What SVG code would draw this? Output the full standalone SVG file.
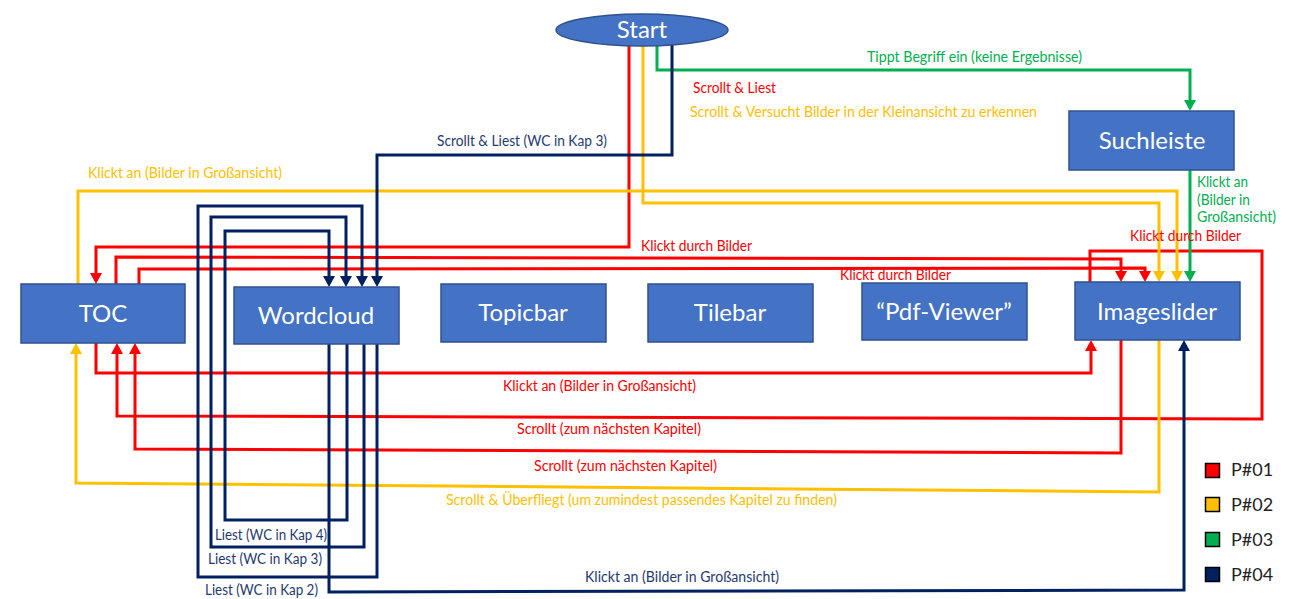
<svg xmlns="http://www.w3.org/2000/svg" width="1301" height="599" viewBox="0 0 1301 599">
  <style>
    .box { fill: #4472C4; stroke: #2F528F; stroke-width: 1.5; }
    .boxlabel { font-family: Lato, "Liberation Sans", sans-serif; font-size: 24px; fill: #FFFFFF; text-anchor: middle; }
    .lbl { font-family: Lato, "Liberation Sans", sans-serif; font-size: 14.5px; }
    .c { fill: none; stroke-width: 3; stroke-linejoin: miter; }
    .red { stroke: #FF0000; }
    .yel { stroke: #FFC000; }
    .grn { stroke: #00B050; }
    .nav { stroke: #002060; }
    .tred { fill: #FF0000; }
    .tyel { fill: #FFC000; }
    .tgrn { fill: #00B050; }
    .tnav { fill: #1F3A70; }
    .key { stroke: #000000; stroke-width: 1.5; }
    .keytext { font-family: Lato, "Liberation Sans", sans-serif; font-size: 18px; fill: #222222; }
  </style>
  <defs>
    <marker id="ahRed" markerUnits="userSpaceOnUse" markerWidth="12" markerHeight="12" refX="5" refY="6" orient="auto">
      <path d="M0,0 L11,6 L0,12 z" fill="#FF0000"/>
    </marker>
    <marker id="ahYel" markerUnits="userSpaceOnUse" markerWidth="12" markerHeight="12" refX="5" refY="6" orient="auto">
      <path d="M0,0 L11,6 L0,12 z" fill="#FFC000"/>
    </marker>
    <marker id="ahGrn" markerUnits="userSpaceOnUse" markerWidth="12" markerHeight="12" refX="5" refY="6" orient="auto">
      <path d="M0,0 L11,6 L0,12 z" fill="#00B050"/>
    </marker>
    <marker id="ahNav" markerUnits="userSpaceOnUse" markerWidth="12" markerHeight="12" refX="5" refY="6" orient="auto">
      <path d="M0,0 L11,6 L0,12 z" fill="#002060"/>
    </marker>
  </defs>

  <rect x="0" y="0" width="1301" height="599" fill="#FFFFFF"/>

  <g id="connectors">
    <!-- P#01 (red) -->
    <path class="c red" d="M629,44 V247 H96 V278" marker-end="url(#ahRed)"/>
    <path class="c red" d="M116,284 V257 L1121,259 V276" marker-end="url(#ahRed)"/>
    <path class="c red" d="M139,284 V269 L1145,268 V276" marker-end="url(#ahRed)"/>
    <path class="c red" d="M1090,282 V251 H1262 V419 L117,416 V349" marker-end="url(#ahRed)"/>
    <path class="c red" d="M96,343 V373 H1091 V346" marker-end="url(#ahRed)"/>
    <path class="c red" d="M1121,340 V453 L135,449 V349" marker-end="url(#ahRed)"/>
    <!-- P#02 (yellow) -->
    <path class="c yel" d="M643,45 V203 H1159 V276" marker-end="url(#ahYel)"/>
    <path class="c yel" d="M78,284 V191 H1177 V276" marker-end="url(#ahYel)"/>
    <path class="c yel" d="M1159,340 V492 L76,483 V349" marker-end="url(#ahYel)"/>
    <!-- P#03 (green) -->
    <path class="c grn" d="M657,44 V70 H1190 V105" marker-end="url(#ahGrn)"/>
    <path class="c grn" d="M1190,170 V276" marker-end="url(#ahGrn)"/>
    <!-- P#04 (navy) -->
    <path class="c nav" d="M672,44 V155 H377 V281" marker-end="url(#ahNav)"/>
    <path class="c nav" d="M329,344 V592 L1184,590 V346" marker-end="url(#ahNav)"/>
    <path class="c nav" d="M347,344 V520 H225 V231 H329 V281" marker-end="url(#ahNav)"/>
    <path class="c nav" d="M364,344 V547 H211 V217 H346 V281" marker-end="url(#ahNav)"/>
    <path class="c nav" d="M377,344 V577 H198 V206 H362 V281" marker-end="url(#ahNav)"/>

    <!-- edge labels -->
    <text class="lbl tgrn" x="867" y="62" textLength="215" lengthAdjust="spacingAndGlyphs">Tippt Begriff ein (keine Ergebnisse)</text>
    <text class="lbl tred" x="693" y="93" textLength="83" lengthAdjust="spacingAndGlyphs">Scrollt &amp; Liest</text>
    <text class="lbl tyel" x="690" y="117" textLength="347" lengthAdjust="spacingAndGlyphs">Scrollt &amp; Versucht Bilder in der Kleinansicht zu erkennen</text>
    <text class="lbl tnav" x="437" y="146" textLength="170" lengthAdjust="spacingAndGlyphs">Scrollt &amp; Liest (WC in Kap 3)</text>
    <text class="lbl tyel" x="88" y="178" textLength="194" lengthAdjust="spacingAndGlyphs">Klickt an (Bilder in Großansicht)</text>
    <text class="lbl tred" x="641" y="251" textLength="111" lengthAdjust="spacingAndGlyphs">Klickt durch Bilder</text>
    <text class="lbl tred" x="840" y="280" textLength="111" lengthAdjust="spacingAndGlyphs">Klickt durch Bilder</text>
    <text class="lbl tred" x="1130" y="241" textLength="111" lengthAdjust="spacingAndGlyphs">Klickt durch Bilder</text>
    <text class="lbl tgrn" x="1197" y="187" textLength="51" lengthAdjust="spacingAndGlyphs">Klickt an</text>
    <text class="lbl tgrn" x="1197" y="205" textLength="53" lengthAdjust="spacingAndGlyphs">(Bilder in</text>
    <text class="lbl tgrn" x="1197" y="222" textLength="79" lengthAdjust="spacingAndGlyphs">Großansicht)</text>
    <text class="lbl tred" x="503" y="391" textLength="193" lengthAdjust="spacingAndGlyphs">Klickt an (Bilder in Großansicht)</text>
    <text class="lbl tred" x="517" y="434" textLength="184" lengthAdjust="spacingAndGlyphs">Scrollt (zum nächsten Kapitel)</text>
    <text class="lbl tred" x="534" y="471" textLength="183" lengthAdjust="spacingAndGlyphs">Scrollt (zum nächsten Kapitel)</text>
    <text class="lbl tyel" x="446" y="505" textLength="391" lengthAdjust="spacingAndGlyphs">Scrollt &amp; Überfliegt (um zumindest passendes Kapitel zu finden)</text>
    <text class="lbl tnav" x="215" y="540" textLength="112" lengthAdjust="spacingAndGlyphs">Liest (WC in Kap 4)</text>
    <text class="lbl tnav" x="208" y="564" textLength="114" lengthAdjust="spacingAndGlyphs">Liest (WC in Kap 3)</text>
    <text class="lbl tnav" x="205" y="595" textLength="113" lengthAdjust="spacingAndGlyphs">Liest (WC in Kap 2)</text>
    <text class="lbl tnav" x="585" y="582" textLength="194" lengthAdjust="spacingAndGlyphs">Klickt an (Bilder in Großansicht)</text>
  </g>

  <g id="start">
    <ellipse class="box" cx="642" cy="30" rx="86" ry="16"/>
    <text class="boxlabel" x="642" y="38">Start</text>
  </g>
  <g id="suchleiste">
    <rect class="box" x="1069" y="111" width="165" height="59"/>
    <text class="boxlabel" x="1152" y="149">Suchleiste</text>
  </g>
  <g id="toc">
    <rect class="box" x="21" y="284" width="164" height="59"/>
    <text class="boxlabel" x="103" y="322">TOC</text>
  </g>
  <g id="wordcloud">
    <rect class="box" x="234" y="287" width="165" height="57"/>
    <text class="boxlabel" x="316" y="324">Wordcloud</text>
  </g>
  <g id="topicbar">
    <rect class="box" x="441" y="284" width="165" height="58"/>
    <text class="boxlabel" x="523" y="321">Topicbar</text>
  </g>
  <g id="tilebar">
    <rect class="box" x="648" y="284" width="165" height="58"/>
    <text class="boxlabel" x="730" y="321">Tilebar</text>
  </g>
  <g id="pdf-viewer">
    <rect class="box" x="862" y="283" width="165" height="57"/>
    <text class="boxlabel" x="944" y="320">“Pdf-Viewer”</text>
  </g>
  <g id="imageslider">
    <rect class="box" x="1075" y="282" width="165" height="58"/>
    <text class="boxlabel" x="1157" y="320">Imageslider</text>
  </g>

  <g id="legend">
    <rect class="key" x="1205.5" y="463.5" width="14" height="14" fill="#FF0000"/>
    <text class="keytext" x="1231" y="476">P#01</text>
    <rect class="key" x="1205.5" y="497.5" width="14" height="14" fill="#FFC000"/>
    <text class="keytext" x="1231" y="511">P#02</text>
    <rect class="key" x="1205.5" y="532.5" width="14" height="14" fill="#00B050"/>
    <text class="keytext" x="1231" y="546">P#03</text>
    <rect class="key" x="1205.5" y="567.5" width="14" height="14" fill="#002060"/>
    <text class="keytext" x="1231" y="581">P#04</text>
  </g>
</svg>
